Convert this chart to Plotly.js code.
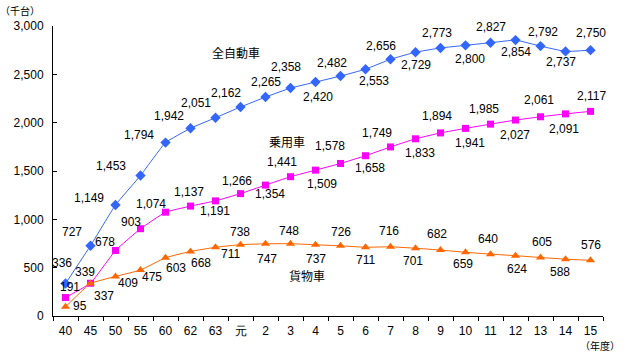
<!DOCTYPE html>
<html>
<head>
<meta charset="utf-8">
<script src="https://cdn.plot.ly/plotly-3.0.1.min.js"></script>
<style>html,body{margin:0;padding:0;background:#fff;}#chart{width:625px;height:354px;}</style>
</head>
<body>
<div id="chart"></div>
<script>
// Data
var categories = ['40','45','50','55','60','62','63','元','2','3','4','5','6','7','8','9','10','11','12','13','14','15'];
var allVehicles = [336,727,1149,1453,1794,1942,2051,2162,2265,2358,2420,2482,2553,2656,2729,2773,2800,2827,2854,2792,2737,2750];
var passengerCars = [191,339,678,903,1074,1137,1191,1266,1354,1441,1509,1578,1658,1749,1833,1894,1941,1985,2027,2061,2091,2117];
var trucks = [95,337,409,475,603,668,711,738,747,748,737,726,711,716,701,682,659,640,624,605,588,576];
var seriesNames = ['全自動車','乗用車','貨物車'];
var yTicks = [0,500,1000,1500,2000,2500,3000];

// Label offsets in pixels from each point (style only): [dx, dy], dy positive = downward
var offAll = [[-4,-21],[-19,-14],[-27,-7],[-30,-10],[-27,-8],[-22,-12],[-20,-15],[-15,-14],[0,-15],[-5,-21],[2,15],[-9,-13],[8,12],[-10,-13],[0,13],[-4,-15],[4,14],[0,-16],[0,12],[2,-14],[-5,11],[0,-17]];
var offPass = [[4,-11],[-6,-11],[-11,-8],[-10,-7],[-15,-8],[-2,-14],[-1,10],[-4,-13],[4,9],[-9,-15],[6,14],[-11,-17],[4,12],[-14,-14],[4,14],[-4,-17],[4,15],[-7,-15],[-1,15],[-2,-17],[-2,15],[1,-15]];
var offTruck = [[14,-1],[13,13],[12,7],[11,7],[10,10],[10,12],[15,7],[-1,-13],[1,15],[-2,-13],[0,14],[0,-14],[0,13],[-2,-16],[-3,13],[-4,-16],[-3,12],[-3,-15],[1,13],[1,-16],[-6,13],[0,-15]];

function fmt(v){return v.toLocaleString('en-US');}
var font = {family:'Liberation Sans, Arial, sans-serif', size:12, color:'#000'};
var cjk = {family:'Noto Sans CJK JP, sans-serif', size:12, color:'#000'};

var traces = [
  {x:categories, y:allVehicles, name:seriesNames[0], type:'scatter', mode:'lines+markers',
   line:{color:'#3366FF', width:1, shape:'spline', smoothing:0.3}, marker:{symbol:'diamond', size:8, color:'#3366FF'}},
  {x:categories, y:passengerCars, name:seriesNames[1], type:'scatter', mode:'lines+markers',
   line:{color:'#FF00FF', width:1, shape:'spline', smoothing:0.3}, marker:{symbol:'square', size:7, color:'#FF00FF'}},
  {x:categories, y:trucks, name:seriesNames[2], type:'scatter', mode:'lines+markers',
   line:{color:'#FF6600', width:1, shape:'spline', smoothing:0.3}, marker:{symbol:'triangle-up', size:8, color:'#FF6600'}}
];

var annotations = [];
function addLabels(vals, offs){
  for (var i=0;i<vals.length;i++){
    // category axis: annotation x given as category index
    annotations.push({xref:'x', yref:'y', x:i, y:vals[i], text:fmt(vals[i]), showarrow:false,
      xanchor:'center', yanchor:'middle', xshift:offs[i][0], yshift:-offs[i][1], font:font});
  }
}
addLabels(allVehicles, offAll);
addLabels(passengerCars, offPass);
addLabels(trucks, offTruck);

annotations.push(
  {xref:'paper', yref:'paper', x:0.333, y:0.910, xanchor:'center', yanchor:'middle', text:seriesNames[0], showarrow:false, font:cjk},
  {xref:'paper', yref:'paper', x:0.425, y:0.603, xanchor:'center', yanchor:'middle', text:seriesNames[1], showarrow:false, font:cjk},
  {xref:'paper', yref:'paper', x:0.462, y:0.141, xanchor:'center', yanchor:'middle', text:seriesNames[2], showarrow:false, font:cjk},
  {xref:'paper', yref:'paper', x:-0.1, y:1.055, xanchor:'left', yanchor:'middle', text:'（千台）', showarrow:false, font:{family:'Noto Sans CJK JP, sans-serif', size:10, color:'#000'}},
  {xref:'paper', yref:'paper', x:1.0345, y:-0.1034, xanchor:'right', yanchor:'middle', text:'（年度）', showarrow:false, font:{family:'Noto Sans CJK JP, sans-serif', size:10, color:'#000'}}
);

var layout = {
  width:625, height:354,
  margin:{l:53, r:22, t:26, b:38},
  paper_bgcolor:'#fff', plot_bgcolor:'#fff',
  showlegend:false,
  font:font,
  xaxis:{type:'category', showgrid:false, showline:true, linecolor:'#000', linewidth:1,
         ticks:'outside', ticklen:4, tickcolor:'#000', tickson:'boundaries', tickfont:font,
         range:[-0.5, categories.length-0.5], zeroline:false, ticklabelstandoff:4},
  yaxis:{range:[0,3000], tickvals:yTicks, ticktext:yTicks.map(fmt), showgrid:false, showline:true,
         linecolor:'#000', linewidth:1, ticks:'inside', ticklen:4, tickcolor:'#000', tickfont:font, zeroline:false,
         ticklabelstandoff:6},
  annotations:annotations
};

Plotly.newPlot('chart', traces, layout, {displayModeBar:false, staticPlot:true});
</script>
</body>
</html>
